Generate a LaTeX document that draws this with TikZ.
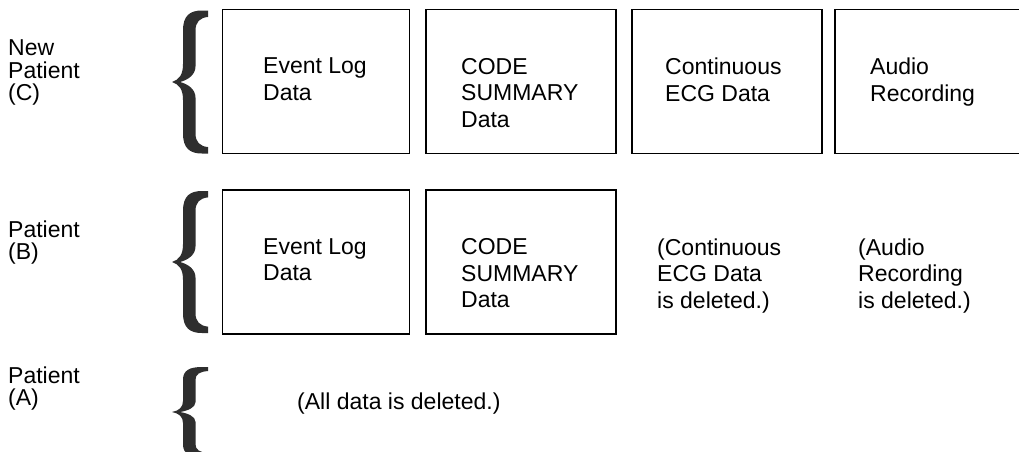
\documentclass[tikz,border=0pt]{standalone}
\usepackage{fontspec}
\setmainfont{Liberation Sans}
\usetikzlibrary{positioning}

\definecolor{bracegray}{gray}{0.18}

\tikzset{
  databox/.style={draw, line width=1.6pt, minimum height=144pt, inner sep=0pt},
  rowlabel/.style={anchor=north west, inner sep=0pt, align=left,
    font=\fontsize{23}{22.5}\selectfont},
  boxtext/.style={anchor=north west, inner sep=0pt, align=left,
    font=\fontsize{23}{26.5}\selectfont},
  patientbrace/.pic={
    \fill[bracegray] (0,0) .. controls (7,-0.03) and (11,-0.1) .. (11,-0.25)
      -- (11,-0.72) .. controls (11,-0.93) and (18,-1) .. (30,-1) -- (36,-1)
      -- (36,-0.91) .. controls (28,-0.9) and (23.5,-0.84) .. (23.5,-0.72)
      -- (23.5,-0.22) .. controls (23.5,-0.1) and (16,-0.03) .. (8,0)
      .. controls (16,0.03) and (23.5,0.1) .. (23.5,0.22)
      -- (23.5,0.72) .. controls (23.5,0.84) and (28,0.9) .. (36,0.91)
      -- (36,1) -- (30,1) .. controls (18,1) and (11,0.93) .. (11,0.72)
      -- (11,0.25) .. controls (11,0.1) and (7,0.03) .. (0,0) -- cycle;
  }
}

\begin{document}
\begin{tikzpicture}[x=1pt,y=-1pt]
\useasboundingbox[fill=white] (0,0) rectangle (1019,451);

% patient labels
\node[rowlabel](labC) at (8,39.8) {New\\Patient\\(C)};
\node[rowlabel](labB) at (8,220.3) {Patient\\(B)};
\node[rowlabel](labA) at (8,366.3) {Patient\\(A)};

% braces
\pic[yscale=71.5] (braceC) at (172,82) {patientbrace};
\pic[yscale=71] (braceB) at (172,262) {patientbrace};
\pic[yscale=45] (braceA) at (172,412) {patientbrace};

% data boxes
\foreach \n/\x/\w in {c1/316/187,c2/521/190,c3/727/190,c4/928.5/187}
	\node[databox,minimum width=\w](\n) at (\x,81.5) {};
\foreach \n/\x/\w in {b1/316/187,b2/521/190}
	\node[databox,minimum width=\w](\n) at (\x,262) {};

% texts of new patient (C)
\node[boxtext](tc1) at (263,57.8) {Event Log\\Data};
\node[boxtext](tc2) at (461,57.8) {CODE\\SUMMARY\\Data};
\node[boxtext](tc3) at (665,57.8) {Continuous\\ECG Data};
\node[boxtext](tc4) at (870,57.8) {Audio\\Recording};

% texts of patient (B)
\node[boxtext](tb1) at (263,238.3) {Event Log\\Data};
\node[boxtext](tb2) at (461,238.3) {CODE\\SUMMARY\\Data};
\node[boxtext](tb3) at (657,238.3) {(Continuous\\ECG Data\\is deleted.)};
\node[boxtext](tb4) at (858,238.3) {(Audio\\Recording\\is deleted.)};

% patient (A)
\node[boxtext](ta) at (297,392.3) {(All data is deleted.)};

\end{tikzpicture}
\end{document}
